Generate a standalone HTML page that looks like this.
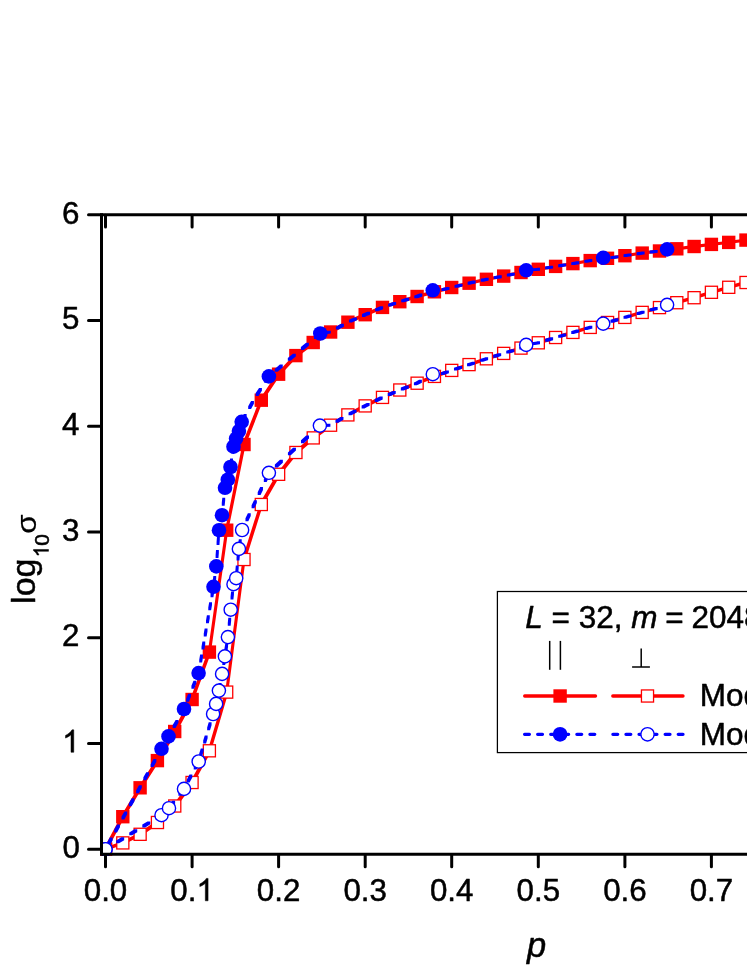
<!DOCTYPE html>
<html><head><meta charset="utf-8"><title>chart</title>
<style>
html,body{margin:0;padding:0;background:#fff;}
body{width:747px;height:967px;overflow:hidden;}
svg{display:block;}
svg text{filter:grayscale(1);}
text{font-family:"Liberation Sans",sans-serif;fill:#000;stroke:#000;stroke-width:0.5px;stroke-linejoin:round;}
</style></head><body>
<svg width="747" height="967" viewBox="0 0 747 967">
<rect width="747" height="967" fill="#fff"/>
<!-- axis titles -->
<g transform="translate(34.8,603.9) rotate(-90)">
<text x="0" y="0" font-size="34">log</text>
<path transform="translate(46.60,13.70) scale(0.01025,-0.01025)" d="M763 0H583V1147Q518 1085 412 1023Q307 961 223 930V1104Q374 1175 487 1276Q600 1377 647 1466H763Z" fill="#000" stroke="#000" stroke-width="48.8" stroke-linejoin="round"/>
<text x="58.28" y="13.7" font-size="21">0</text>
<text transform="translate(70.2,0.9) scale(1.12,1)" x="0" y="0" font-size="28" style="stroke-width:0.2px">σ</text>
</g>
<text x="536.5" y="956.9" text-anchor="middle" font-size="34.5" font-style="italic">p</text>
<!-- data -->
<clipPath id="pc"><rect x="100" y="213.3" width="660" height="642.4"/></clipPath>
<g clip-path="url(#pc)">
<path d="M104.12,847.83 121.44,815.33 124.19,815.33 124.19,818.08 106.88,850.58 104.12,850.58ZM121.44,815.33 138.75,786.42 141.50,786.42 141.50,789.17 124.19,818.08 121.44,818.08ZM138.75,786.42 156.06,759.23 158.81,759.23 158.81,761.98 141.50,789.17 138.75,789.17ZM156.06,759.23 173.37,730.12 176.12,730.12 176.12,732.88 158.81,761.98 156.06,761.98ZM173.37,730.12 190.69,698.12 193.44,698.12 193.44,700.88 176.12,732.88 173.37,732.88ZM190.69,698.12 208.00,650.73 210.75,650.73 210.75,653.48 193.44,700.88 190.69,700.88ZM208.00,650.73 225.31,528.83 228.06,528.83 228.06,531.58 210.75,653.48 208.00,653.48ZM225.31,528.83 242.62,443.12 245.37,443.12 245.37,445.88 228.06,531.58 225.31,531.58ZM242.62,443.12 259.93,398.82 262.68,398.82 262.68,401.57 245.37,445.88 242.62,445.88ZM259.93,398.82 277.25,372.82 280.00,372.82 280.00,375.57 262.68,401.57 259.93,401.57ZM277.25,372.82 294.56,354.23 297.31,354.23 297.31,356.98 280.00,375.57 277.25,375.57ZM294.56,354.23 311.87,341.12 314.62,341.12 314.62,343.88 297.31,356.98 294.56,356.98ZM311.87,341.12 329.18,330.62 331.93,330.62 331.93,333.38 314.62,343.88 311.87,343.88ZM329.18,330.62 346.49,320.82 349.24,320.82 349.24,323.57 331.93,333.38 329.18,333.38ZM346.49,320.82 363.81,313.32 366.56,313.32 366.56,316.07 349.24,323.57 346.49,323.57ZM363.81,313.32 381.12,306.02 383.87,306.02 383.87,308.77 366.56,316.07 363.81,316.07ZM381.12,306.02 398.43,300.32 401.18,300.32 401.18,303.07 383.87,308.77 381.12,308.77ZM398.43,300.32 415.74,295.12 418.49,295.12 418.49,297.88 401.18,303.07 398.43,303.07ZM415.74,295.12 433.05,290.43 435.80,290.43 435.80,293.18 418.49,297.88 415.74,297.88ZM433.05,290.43 450.37,286.12 453.12,286.12 453.12,288.88 435.80,293.18 433.05,293.18ZM450.37,286.12 467.68,281.82 470.43,281.82 470.43,284.57 453.12,288.88 450.37,288.88ZM467.68,281.82 484.99,277.93 487.74,277.93 487.74,280.68 470.43,284.57 467.68,284.57ZM484.99,277.93 502.30,274.73 505.05,274.73 505.05,277.48 487.74,280.68 484.99,280.68ZM502.30,274.73 519.61,271.12 522.36,271.12 522.36,273.88 505.05,277.48 502.30,277.48ZM519.61,271.12 536.92,267.93 539.67,267.93 539.67,270.68 522.36,273.88 519.61,273.88ZM536.92,267.93 554.24,265.02 556.99,265.02 556.99,267.77 539.67,270.68 536.92,270.68ZM554.24,265.02 571.55,262.23 574.30,262.23 574.30,264.98 556.99,267.77 554.24,267.77ZM571.55,262.23 588.86,259.23 591.61,259.23 591.61,261.98 574.30,264.98 571.55,264.98ZM588.86,259.23 606.17,256.93 608.92,256.93 608.92,259.68 591.61,261.98 588.86,261.98ZM606.17,256.93 623.49,254.32 626.24,254.32 626.24,257.07 608.92,259.68 606.17,259.68ZM623.49,254.32 640.80,251.72 643.55,251.72 643.55,254.47 626.24,257.07 623.49,257.07ZM640.80,251.72 658.11,249.62 660.86,249.62 660.86,252.38 643.55,254.47 640.80,254.47ZM658.11,249.62 675.42,247.43 678.17,247.43 678.17,250.18 660.86,252.38 658.11,252.38ZM675.42,247.43 692.73,245.12 695.48,245.12 695.48,247.88 678.17,250.18 675.42,250.18ZM692.73,245.12 710.04,243.03 712.79,243.03 712.79,245.78 695.48,247.88 692.73,247.88ZM710.04,243.03 727.36,241.03 730.11,241.03 730.11,243.78 712.79,245.78 710.04,245.78ZM727.36,241.03 744.67,238.72 747.42,238.72 747.42,241.47 730.11,243.78 727.36,243.78ZM744.67,238.72 761.98,236.62 764.73,236.62 764.73,239.38 747.42,241.47 744.67,241.47Z" fill="#ff0000"/>
<rect x="98.8" y="842.5" width="13.4" height="13.4" fill="#ff0000"/>
<rect x="116.1" y="810.0" width="13.4" height="13.4" fill="#ff0000"/>
<rect x="133.4" y="781.1" width="13.4" height="13.4" fill="#ff0000"/>
<rect x="150.7" y="753.9" width="13.4" height="13.4" fill="#ff0000"/>
<rect x="168.0" y="724.8" width="13.4" height="13.4" fill="#ff0000"/>
<rect x="185.4" y="692.8" width="13.4" height="13.4" fill="#ff0000"/>
<rect x="202.7" y="645.4" width="13.4" height="13.4" fill="#ff0000"/>
<rect x="220.0" y="523.5" width="13.4" height="13.4" fill="#ff0000"/>
<rect x="237.3" y="437.8" width="13.4" height="13.4" fill="#ff0000"/>
<rect x="254.6" y="393.5" width="13.4" height="13.4" fill="#ff0000"/>
<rect x="271.9" y="367.5" width="13.4" height="13.4" fill="#ff0000"/>
<rect x="289.2" y="348.9" width="13.4" height="13.4" fill="#ff0000"/>
<rect x="306.5" y="335.8" width="13.4" height="13.4" fill="#ff0000"/>
<rect x="323.9" y="325.3" width="13.4" height="13.4" fill="#ff0000"/>
<rect x="341.2" y="315.5" width="13.4" height="13.4" fill="#ff0000"/>
<rect x="358.5" y="308.0" width="13.4" height="13.4" fill="#ff0000"/>
<rect x="375.8" y="300.7" width="13.4" height="13.4" fill="#ff0000"/>
<rect x="393.1" y="295.0" width="13.4" height="13.4" fill="#ff0000"/>
<rect x="410.4" y="289.8" width="13.4" height="13.4" fill="#ff0000"/>
<rect x="427.7" y="285.1" width="13.4" height="13.4" fill="#ff0000"/>
<rect x="445.0" y="280.8" width="13.4" height="13.4" fill="#ff0000"/>
<rect x="462.4" y="276.5" width="13.4" height="13.4" fill="#ff0000"/>
<rect x="479.7" y="272.6" width="13.4" height="13.4" fill="#ff0000"/>
<rect x="497.0" y="269.4" width="13.4" height="13.4" fill="#ff0000"/>
<rect x="514.3" y="265.8" width="13.4" height="13.4" fill="#ff0000"/>
<rect x="531.6" y="262.6" width="13.4" height="13.4" fill="#ff0000"/>
<rect x="548.9" y="259.7" width="13.4" height="13.4" fill="#ff0000"/>
<rect x="566.2" y="256.9" width="13.4" height="13.4" fill="#ff0000"/>
<rect x="583.5" y="253.9" width="13.4" height="13.4" fill="#ff0000"/>
<rect x="600.8" y="251.6" width="13.4" height="13.4" fill="#ff0000"/>
<rect x="618.2" y="249.0" width="13.4" height="13.4" fill="#ff0000"/>
<rect x="635.5" y="246.4" width="13.4" height="13.4" fill="#ff0000"/>
<rect x="652.8" y="244.3" width="13.4" height="13.4" fill="#ff0000"/>
<rect x="670.1" y="242.1" width="13.4" height="13.4" fill="#ff0000"/>
<rect x="687.4" y="239.8" width="13.4" height="13.4" fill="#ff0000"/>
<rect x="704.7" y="237.7" width="13.4" height="13.4" fill="#ff0000"/>
<rect x="722.0" y="235.7" width="13.4" height="13.4" fill="#ff0000"/>
<rect x="739.3" y="233.4" width="13.4" height="13.4" fill="#ff0000"/>
<rect x="756.7" y="231.3" width="13.4" height="13.4" fill="#ff0000"/>
<path d="M104.12,847.83 121.44,841.52 124.19,841.52 124.19,844.27 106.88,850.58 104.12,850.58ZM121.44,841.52 138.75,832.92 141.50,832.92 141.50,835.67 124.19,844.27 121.44,844.27ZM138.75,832.92 156.06,821.12 158.81,821.12 158.81,823.88 141.50,835.67 138.75,835.67ZM156.06,821.12 173.37,804.62 176.12,804.62 176.12,807.38 158.81,823.88 156.06,823.88ZM173.37,804.62 190.69,781.12 193.44,781.12 193.44,783.88 176.12,807.38 173.37,807.38ZM190.69,781.12 208.00,749.42 210.75,749.42 210.75,752.17 193.44,783.88 190.69,783.88ZM208.00,749.42 225.31,690.73 228.06,690.73 228.06,693.48 210.75,752.17 208.00,752.17ZM225.31,690.73 242.62,558.12 245.37,558.12 245.37,560.88 228.06,693.48 225.31,693.48ZM242.62,558.12 259.93,503.12 262.68,503.12 262.68,505.88 245.37,560.88 242.62,560.88ZM259.93,503.12 277.25,472.93 280.00,472.93 280.00,475.68 262.68,505.88 259.93,505.88ZM277.25,472.93 294.56,451.12 297.31,451.12 297.31,453.88 280.00,475.68 277.25,475.68ZM294.56,451.12 311.87,436.52 314.62,436.52 314.62,439.27 297.31,453.88 294.56,453.88ZM311.87,436.52 329.18,423.82 331.93,423.82 331.93,426.57 314.62,439.27 311.87,439.27ZM329.18,423.82 346.49,413.52 349.24,413.52 349.24,416.27 331.93,426.57 329.18,426.57ZM346.49,413.52 363.81,404.52 366.56,404.52 366.56,407.27 349.24,416.27 346.49,416.27ZM363.81,404.52 381.12,396.02 383.87,396.02 383.87,398.77 366.56,407.27 363.81,407.27ZM381.12,396.02 398.43,388.62 401.18,388.62 401.18,391.38 383.87,398.77 381.12,398.77ZM398.43,388.62 415.74,381.82 418.49,381.82 418.49,384.57 401.18,391.38 398.43,391.38ZM415.74,381.82 433.05,375.02 435.80,375.02 435.80,377.77 418.49,384.57 415.74,384.57ZM433.05,375.02 450.37,369.02 453.12,369.02 453.12,371.77 435.80,377.77 433.05,377.77ZM450.37,369.02 467.68,363.23 470.43,363.23 470.43,365.98 453.12,371.77 450.37,371.77ZM467.68,363.23 484.99,357.43 487.74,357.43 487.74,360.18 470.43,365.98 467.68,365.98ZM484.99,357.43 502.30,352.02 505.05,352.02 505.05,354.77 487.74,360.18 484.99,360.18ZM502.30,352.02 519.61,346.73 522.36,346.73 522.36,349.48 505.05,354.77 502.30,354.77ZM519.61,346.73 536.92,341.43 539.67,341.43 539.67,344.18 522.36,349.48 519.61,349.48ZM536.92,341.43 554.24,336.12 556.99,336.12 556.99,338.88 539.67,344.18 536.92,344.18ZM554.24,336.12 571.55,331.02 574.30,331.02 574.30,333.77 556.99,338.88 554.24,338.88ZM571.55,331.02 588.86,326.02 591.61,326.02 591.61,328.77 574.30,333.77 571.55,333.77ZM588.86,326.02 606.17,321.12 608.92,321.12 608.92,323.88 591.61,328.77 588.86,328.77ZM606.17,321.12 623.49,316.02 626.24,316.02 626.24,318.77 608.92,323.88 606.17,323.88ZM623.49,316.02 640.80,311.02 643.55,311.02 643.55,313.77 626.24,318.77 623.49,318.77ZM640.80,311.02 658.11,306.23 660.86,306.23 660.86,308.98 643.55,313.77 640.80,313.77ZM658.11,306.23 675.42,301.32 678.17,301.32 678.17,304.07 660.86,308.98 658.11,308.98ZM675.42,301.32 692.73,296.32 695.48,296.32 695.48,299.07 678.17,304.07 675.42,304.07ZM692.73,296.32 710.04,290.93 712.79,290.93 712.79,293.68 695.48,299.07 692.73,299.07ZM710.04,290.93 727.36,285.93 730.11,285.93 730.11,288.68 712.79,293.68 710.04,293.68ZM727.36,285.93 744.67,281.12 747.42,281.12 747.42,283.88 730.11,288.68 727.36,288.68ZM744.67,281.12 761.98,276.43 764.73,276.43 764.73,279.18 747.42,283.88 744.67,283.88Z" fill="#ff0000"/>
<rect x="99.45" y="843.15" width="12.1" height="12.1" fill="#fff" stroke="#ff0000" stroke-width="1.3"/>
<rect x="116.76" y="836.85" width="12.1" height="12.1" fill="#fff" stroke="#ff0000" stroke-width="1.3"/>
<rect x="134.07" y="828.25" width="12.1" height="12.1" fill="#fff" stroke="#ff0000" stroke-width="1.3"/>
<rect x="151.39" y="816.45" width="12.1" height="12.1" fill="#fff" stroke="#ff0000" stroke-width="1.3"/>
<rect x="168.70" y="799.95" width="12.1" height="12.1" fill="#fff" stroke="#ff0000" stroke-width="1.3"/>
<rect x="186.01" y="776.45" width="12.1" height="12.1" fill="#fff" stroke="#ff0000" stroke-width="1.3"/>
<rect x="203.32" y="744.75" width="12.1" height="12.1" fill="#fff" stroke="#ff0000" stroke-width="1.3"/>
<rect x="220.63" y="686.05" width="12.1" height="12.1" fill="#fff" stroke="#ff0000" stroke-width="1.3"/>
<rect x="237.95" y="553.45" width="12.1" height="12.1" fill="#fff" stroke="#ff0000" stroke-width="1.3"/>
<rect x="255.26" y="498.45" width="12.1" height="12.1" fill="#fff" stroke="#ff0000" stroke-width="1.3"/>
<rect x="272.57" y="468.25" width="12.1" height="12.1" fill="#fff" stroke="#ff0000" stroke-width="1.3"/>
<rect x="289.88" y="446.45" width="12.1" height="12.1" fill="#fff" stroke="#ff0000" stroke-width="1.3"/>
<rect x="307.19" y="431.85" width="12.1" height="12.1" fill="#fff" stroke="#ff0000" stroke-width="1.3"/>
<rect x="324.51" y="419.15" width="12.1" height="12.1" fill="#fff" stroke="#ff0000" stroke-width="1.3"/>
<rect x="341.82" y="408.85" width="12.1" height="12.1" fill="#fff" stroke="#ff0000" stroke-width="1.3"/>
<rect x="359.13" y="399.85" width="12.1" height="12.1" fill="#fff" stroke="#ff0000" stroke-width="1.3"/>
<rect x="376.44" y="391.35" width="12.1" height="12.1" fill="#fff" stroke="#ff0000" stroke-width="1.3"/>
<rect x="393.75" y="383.95" width="12.1" height="12.1" fill="#fff" stroke="#ff0000" stroke-width="1.3"/>
<rect x="411.07" y="377.15" width="12.1" height="12.1" fill="#fff" stroke="#ff0000" stroke-width="1.3"/>
<rect x="428.38" y="370.35" width="12.1" height="12.1" fill="#fff" stroke="#ff0000" stroke-width="1.3"/>
<rect x="445.69" y="364.35" width="12.1" height="12.1" fill="#fff" stroke="#ff0000" stroke-width="1.3"/>
<rect x="463.00" y="358.55" width="12.1" height="12.1" fill="#fff" stroke="#ff0000" stroke-width="1.3"/>
<rect x="480.31" y="352.75" width="12.1" height="12.1" fill="#fff" stroke="#ff0000" stroke-width="1.3"/>
<rect x="497.63" y="347.35" width="12.1" height="12.1" fill="#fff" stroke="#ff0000" stroke-width="1.3"/>
<rect x="514.94" y="342.05" width="12.1" height="12.1" fill="#fff" stroke="#ff0000" stroke-width="1.3"/>
<rect x="532.25" y="336.75" width="12.1" height="12.1" fill="#fff" stroke="#ff0000" stroke-width="1.3"/>
<rect x="549.56" y="331.45" width="12.1" height="12.1" fill="#fff" stroke="#ff0000" stroke-width="1.3"/>
<rect x="566.87" y="326.35" width="12.1" height="12.1" fill="#fff" stroke="#ff0000" stroke-width="1.3"/>
<rect x="584.19" y="321.35" width="12.1" height="12.1" fill="#fff" stroke="#ff0000" stroke-width="1.3"/>
<rect x="601.50" y="316.45" width="12.1" height="12.1" fill="#fff" stroke="#ff0000" stroke-width="1.3"/>
<rect x="618.81" y="311.35" width="12.1" height="12.1" fill="#fff" stroke="#ff0000" stroke-width="1.3"/>
<rect x="636.12" y="306.35" width="12.1" height="12.1" fill="#fff" stroke="#ff0000" stroke-width="1.3"/>
<rect x="653.43" y="301.55" width="12.1" height="12.1" fill="#fff" stroke="#ff0000" stroke-width="1.3"/>
<rect x="670.75" y="296.65" width="12.1" height="12.1" fill="#fff" stroke="#ff0000" stroke-width="1.3"/>
<rect x="688.06" y="291.65" width="12.1" height="12.1" fill="#fff" stroke="#ff0000" stroke-width="1.3"/>
<rect x="705.37" y="286.25" width="12.1" height="12.1" fill="#fff" stroke="#ff0000" stroke-width="1.3"/>
<rect x="722.68" y="281.25" width="12.1" height="12.1" fill="#fff" stroke="#ff0000" stroke-width="1.3"/>
<rect x="739.99" y="276.45" width="12.1" height="12.1" fill="#fff" stroke="#ff0000" stroke-width="1.3"/>
<rect x="757.31" y="271.75" width="12.1" height="12.1" fill="#fff" stroke="#ff0000" stroke-width="1.3"/>
<path d="M106.92,842.68 109.79,837.53 112.64,837.53 112.64,840.38 109.77,845.52 106.92,845.52ZM114.21,829.61 117.08,824.46 119.93,824.46 119.93,827.30 117.06,832.46 114.21,832.46ZM121.50,816.54 124.37,811.39 127.22,811.39 127.22,814.24 124.35,819.38 121.50,819.38ZM128.79,803.47 131.66,798.32 134.51,798.32 134.51,801.16 131.64,806.32 128.79,806.32ZM136.08,790.40 138.95,785.25 141.80,785.25 141.80,788.10 138.93,793.25 136.08,793.25ZM143.37,777.33 146.24,772.18 149.09,772.18 149.09,775.02 146.22,780.17 143.37,780.17ZM150.66,764.26 153.53,759.11 156.38,759.11 156.38,761.96 153.51,767.11 150.66,767.11ZM157.95,751.19 160.07,747.38 162.93,747.38 162.93,750.22 160.80,754.03 157.95,754.03ZM160.07,747.38 160.83,746.04 163.68,746.04 163.68,748.88 162.93,750.22 160.07,750.22ZM165.30,738.12 167.07,734.98 169.93,734.98 169.93,737.82 168.15,740.97 165.30,740.97ZM167.07,734.98 168.21,732.97 171.06,732.97 171.06,735.82 169.93,737.82 167.07,737.82ZM172.69,725.05 175.61,719.90 178.46,719.90 178.46,722.75 175.54,727.89 172.69,727.89ZM180.09,711.98 182.57,707.58 185.43,707.58 185.43,710.42 182.94,714.83 180.09,714.83ZM182.57,707.58 182.88,706.83 185.73,706.83 185.73,709.67 185.43,710.42 182.57,710.42ZM186.10,698.91 188.20,693.76 191.05,693.76 191.05,696.61 188.95,701.75 186.10,701.75ZM191.42,685.84 193.51,680.69 196.36,680.69 196.36,683.53 194.27,688.68 191.42,688.68ZM196.73,672.77 197.17,671.68 200.03,671.68 200.03,674.52 199.58,675.62 196.73,675.62ZM197.17,671.68 197.88,667.62 200.73,667.62 200.73,670.47 200.03,674.52 197.17,674.52ZM199.24,659.70 200.13,654.55 202.98,654.55 202.98,657.39 202.09,662.55 199.24,662.55ZM201.50,646.63 202.39,641.48 205.24,641.48 205.24,644.33 204.35,649.48 201.50,649.48ZM203.76,633.56 204.65,628.41 207.50,628.41 207.50,631.25 206.61,636.40 203.76,636.40ZM206.01,620.49 206.90,615.34 209.75,615.34 209.75,618.18 208.86,623.34 206.01,623.34ZM208.27,607.42 209.16,602.27 212.01,602.27 212.01,605.12 211.12,610.26 208.27,610.26ZM210.53,594.35 211.42,589.20 214.27,589.20 214.27,592.05 213.38,597.19 210.53,597.19ZM212.64,581.28 213.34,576.12 216.19,576.12 216.19,578.97 215.49,584.12 212.64,584.12ZM214.43,568.21 214.88,564.98 217.73,564.98 217.73,567.82 217.28,571.05 214.43,571.05ZM214.88,564.98 215.02,563.06 217.87,563.06 217.87,565.90 217.73,567.82 214.88,567.82ZM215.61,555.13 215.99,549.99 218.84,549.99 218.84,552.84 218.46,557.98 215.61,557.98ZM216.58,542.07 216.97,536.92 219.82,536.92 219.82,539.76 219.43,544.91 216.58,544.91ZM217.56,529.00 217.57,528.78 220.43,528.78 220.43,531.62 220.41,531.85 217.56,531.85ZM217.57,528.78 218.56,523.85 221.41,523.85 221.41,526.69 220.43,531.62 217.57,531.62ZM220.14,515.93 220.57,513.78 223.43,513.78 223.43,516.62 223.00,518.77 220.14,518.77ZM220.57,513.78 220.90,510.78 223.75,510.78 223.75,513.62 223.43,516.62 220.57,516.62ZM221.77,502.86 222.33,497.70 225.18,497.70 225.18,500.56 224.62,505.71 221.77,505.71ZM223.20,489.79 223.57,486.38 226.43,486.38 226.43,489.23 226.05,492.64 223.20,492.64ZM223.57,486.38 224.18,484.63 227.03,484.63 227.03,487.49 226.43,489.23 223.57,489.23ZM226.71,476.71 227.80,471.56 230.65,471.56 230.65,474.42 229.56,479.56 226.71,479.56ZM229.36,463.64 230.12,458.50 232.97,458.50 232.97,461.35 232.21,466.50 229.36,466.50ZM231.29,450.57 232.05,445.43 234.90,445.43 234.90,448.28 234.14,453.43 231.29,453.43ZM234.57,437.50 234.67,437.18 237.53,437.18 237.53,440.03 237.42,440.36 234.57,440.36ZM234.67,437.18 236.47,432.36 239.32,432.36 239.32,435.21 237.53,440.03 234.67,440.03ZM239.05,424.44 240.27,420.38 243.12,420.38 243.12,423.23 241.90,427.29 239.05,427.29ZM240.92,419.21 243.79,414.06 246.64,414.06 246.64,416.92 243.77,422.06 240.92,422.06ZM248.19,406.14 251.06,401.00 253.91,401.00 253.91,403.85 251.04,409.00 248.19,409.00ZM255.70,393.07 259.05,387.93 261.90,387.93 261.90,390.78 258.55,395.93 255.70,395.93ZM264.20,380.00 267.47,374.97 270.32,374.97 270.32,377.82 267.05,382.86 264.20,382.86ZM274.74,368.91 279.89,364.61 282.75,364.61 282.75,367.46 277.59,371.76 274.74,371.76ZM287.81,358.00 292.96,353.70 295.81,353.70 295.81,356.55 290.66,360.85 287.81,360.85ZM300.88,347.09 306.03,342.79 308.88,342.79 308.88,345.64 303.73,349.94 300.88,349.94ZM313.95,336.18 318.88,332.07 321.73,332.07 321.73,334.93 316.81,339.03 313.95,339.03ZM322.81,331.50 327.95,330.75 330.81,330.75 330.81,333.60 325.66,334.35 322.81,334.35ZM335.88,326.76 341.02,323.84 343.88,323.84 343.88,326.69 338.73,329.61 335.88,329.61ZM348.94,319.69 354.09,317.46 356.94,317.46 356.94,320.31 351.80,322.54 348.94,322.54ZM362.01,314.03 363.75,313.27 366.61,313.27 366.61,316.12 364.87,316.88 362.01,316.88ZM363.75,313.27 367.17,311.84 370.02,311.84 370.02,314.69 366.61,316.12 363.75,316.12ZM375.08,308.50 380.24,306.33 383.09,306.33 383.09,309.18 377.94,311.35 375.08,311.35ZM388.16,303.64 393.31,301.95 396.16,301.95 396.16,304.80 391.01,306.49 388.16,306.49ZM401.23,299.42 406.38,297.87 409.23,297.87 409.23,300.72 404.08,302.27 401.23,302.27ZM414.30,295.49 415.69,295.07 418.54,295.07 418.54,297.93 417.15,298.34 414.30,298.34ZM415.69,295.07 419.44,293.59 422.30,293.59 422.30,296.44 418.54,297.93 415.69,297.93ZM427.37,290.46 431.38,288.88 434.23,288.88 434.23,291.73 430.22,293.31 427.37,293.31ZM431.38,288.88 434.23,288.88 435.85,290.38 435.85,293.23 433.00,293.23 431.38,291.73ZM433.00,290.38 433.56,290.24 436.41,290.24 436.41,293.09 435.85,293.23 433.00,293.23ZM441.48,288.27 446.62,286.99 449.48,286.99 449.48,289.84 444.33,291.12 441.48,291.12ZM454.55,285.02 459.69,283.75 462.55,283.75 462.55,286.60 457.40,287.87 454.55,287.87ZM467.62,281.78 467.63,281.77 470.48,281.77 470.48,284.62 470.47,284.63 467.62,284.63ZM467.63,281.77 472.76,280.62 475.62,280.62 475.62,283.47 470.48,284.62 467.63,284.62ZM480.69,278.83 484.94,277.88 487.79,277.88 487.79,280.73 483.54,281.68 480.69,281.68ZM484.94,277.88 485.83,277.71 488.69,277.71 488.69,280.56 487.79,280.73 484.94,280.73ZM493.75,276.25 498.91,275.29 501.76,275.29 501.76,278.14 496.61,279.10 493.75,279.10ZM506.82,273.72 511.97,272.65 514.82,272.65 514.82,275.50 509.68,276.57 506.82,276.57ZM519.90,270.93 524.78,268.88 527.62,268.88 527.62,271.73 522.75,273.78 519.90,273.78ZM532.04,268.27 536.88,267.88 539.72,267.88 539.72,270.73 534.88,271.12 532.04,271.12ZM536.88,267.88 537.19,267.82 540.03,267.82 540.03,270.67 539.72,270.73 536.88,270.73ZM545.11,266.50 550.26,265.63 553.11,265.63 553.11,268.48 547.96,269.35 545.11,269.35ZM558.18,264.33 563.33,263.50 566.17,263.50 566.17,266.35 561.02,267.18 558.18,267.18ZM571.25,262.22 571.50,262.18 574.35,262.18 574.35,265.03 574.10,265.07 571.25,265.07ZM571.50,262.18 576.40,261.33 579.25,261.33 579.25,264.18 574.35,265.03 571.50,265.03ZM584.32,259.95 588.81,259.18 591.66,259.18 591.66,262.03 587.16,262.80 584.32,262.80ZM588.81,259.18 589.47,259.03 592.32,259.03 592.32,261.88 591.66,262.03 588.81,262.03ZM597.39,257.32 601.78,256.38 604.62,256.38 604.62,259.23 600.24,260.17 597.39,260.17ZM601.78,256.38 604.62,256.38 605.38,256.46 605.38,259.31 602.54,259.31 601.78,259.23ZM610.46,256.22 615.61,255.45 618.46,255.45 618.46,258.30 613.31,259.07 610.46,259.07ZM623.53,254.26 628.68,253.49 631.52,253.49 631.52,256.34 626.38,257.11 623.53,257.11ZM636.60,252.30 640.75,251.67 643.60,251.67 643.60,254.53 639.45,255.15 636.60,255.15ZM640.75,251.67 641.75,251.55 644.60,251.55 644.60,254.40 643.60,254.53 640.75,254.53ZM649.67,250.59 654.82,249.97 657.66,249.97 657.66,252.82 652.51,253.44 649.67,253.44ZM662.74,248.59 665.68,247.97 668.52,247.97 668.52,250.83 665.59,251.44 662.74,251.44Z" fill="#0000ff"/>
<circle cx="105.5" cy="849.2" r="7.3" fill="#0000ff"/>
<circle cx="161.5" cy="748.8" r="7.3" fill="#0000ff"/>
<circle cx="168.5" cy="736.4" r="7.3" fill="#0000ff"/>
<circle cx="184.0" cy="709.0" r="7.3" fill="#0000ff"/>
<circle cx="198.6" cy="673.1" r="7.3" fill="#0000ff"/>
<circle cx="213.5" cy="586.8" r="7.3" fill="#0000ff"/>
<circle cx="216.3" cy="566.4" r="7.3" fill="#0000ff"/>
<circle cx="219.0" cy="530.2" r="7.3" fill="#0000ff"/>
<circle cx="222.0" cy="515.2" r="7.3" fill="#0000ff"/>
<circle cx="225.0" cy="487.8" r="7.3" fill="#0000ff"/>
<circle cx="227.8" cy="479.7" r="7.3" fill="#0000ff"/>
<circle cx="230.5" cy="467.0" r="7.3" fill="#0000ff"/>
<circle cx="233.5" cy="446.7" r="7.3" fill="#0000ff"/>
<circle cx="236.1" cy="438.6" r="7.3" fill="#0000ff"/>
<circle cx="238.9" cy="431.1" r="7.3" fill="#0000ff"/>
<circle cx="241.7" cy="421.8" r="7.3" fill="#0000ff"/>
<circle cx="268.9" cy="376.4" r="7.3" fill="#0000ff"/>
<circle cx="320.3" cy="333.5" r="7.3" fill="#0000ff"/>
<circle cx="432.8" cy="290.3" r="7.3" fill="#0000ff"/>
<circle cx="526.2" cy="270.3" r="7.3" fill="#0000ff"/>
<circle cx="603.2" cy="257.8" r="7.3" fill="#0000ff"/>
<circle cx="667.1" cy="249.4" r="7.3" fill="#0000ff"/>
<path d="M104.08,847.78 108.26,845.24 111.11,845.24 111.11,848.09 106.92,850.62 104.08,850.62ZM116.17,840.43 121.33,837.30 124.17,837.30 124.17,840.15 119.02,843.28 116.17,843.28ZM129.25,832.49 134.39,829.37 137.25,829.37 137.25,832.22 132.10,835.34 129.25,835.34ZM142.31,824.56 147.46,821.43 150.31,821.43 150.31,824.28 145.17,827.41 142.31,827.41ZM155.38,816.62 160.07,813.78 162.93,813.78 162.93,816.62 158.24,819.47 155.38,819.47ZM160.07,813.78 160.53,813.35 163.39,813.35 163.39,816.20 162.93,816.62 160.07,816.62ZM168.26,805.90 172.26,800.75 175.11,800.75 175.11,803.60 171.11,808.75 168.26,808.75ZM178.42,792.83 182.42,787.68 185.27,787.68 185.27,790.52 181.27,795.67 178.42,795.67ZM186.72,779.76 189.48,774.61 192.33,774.61 192.33,777.46 189.57,782.61 186.72,782.61ZM193.73,766.69 196.49,761.54 199.34,761.54 199.34,764.38 196.58,769.53 193.73,769.53ZM199.23,753.62 200.79,748.47 203.64,748.47 203.64,751.32 202.08,756.47 199.23,756.47ZM203.20,740.55 204.76,735.40 207.61,735.40 207.61,738.25 206.05,743.39 203.20,743.39ZM207.16,727.48 208.72,722.33 211.57,722.33 211.57,725.17 210.01,730.33 207.16,730.33ZM211.12,714.41 211.67,712.58 214.53,712.58 214.53,715.42 213.97,717.25 211.12,717.25ZM211.67,712.58 212.66,709.26 215.51,709.26 215.51,712.11 214.53,715.42 211.67,715.42ZM214.91,701.34 216.00,696.19 218.85,696.19 218.85,699.03 217.76,704.18 214.91,704.18ZM217.65,688.27 218.64,683.12 221.49,683.12 221.49,685.97 220.50,691.12 217.65,691.12ZM220.15,675.20 220.67,672.48 223.53,672.48 223.53,675.32 223.00,678.05 220.15,678.05ZM220.67,672.48 221.06,670.05 223.91,670.05 223.91,672.89 223.53,675.32 220.67,675.32ZM222.33,662.13 223.15,656.98 226.00,656.98 226.00,659.83 225.18,664.98 222.33,664.98ZM224.40,649.06 225.20,643.91 228.05,643.91 228.05,646.75 227.25,651.90 224.40,651.90ZM226.43,635.99 226.47,635.68 229.33,635.68 229.33,638.52 229.28,638.84 226.43,638.84ZM226.47,635.68 226.97,630.84 229.82,630.84 229.82,633.68 229.33,638.52 226.47,638.52ZM227.78,622.92 228.31,617.77 231.16,617.77 231.16,620.62 230.63,625.76 227.78,625.76ZM229.11,609.85 229.27,608.28 232.12,608.28 232.12,611.12 231.96,612.69 229.11,612.69ZM229.27,608.28 229.67,604.70 232.52,604.70 232.52,607.55 232.12,611.12 229.27,611.12ZM230.54,596.78 231.10,591.62 233.95,591.62 233.95,594.47 233.39,599.62 230.54,599.62ZM231.97,583.71 232.07,582.78 234.93,582.78 234.93,585.62 234.82,586.55 231.97,586.55ZM232.07,582.78 233.97,578.56 236.82,578.56 236.82,581.40 234.93,585.62 232.07,585.62ZM235.34,570.63 235.82,565.49 238.67,565.49 238.67,568.34 238.19,573.48 235.34,573.48ZM236.55,557.57 237.02,552.42 239.87,552.42 239.87,555.26 239.40,560.41 236.55,560.41ZM237.98,544.50 238.85,539.35 241.70,539.35 241.70,542.19 240.83,547.35 237.98,547.35ZM240.19,531.43 240.67,528.58 243.53,528.58 243.53,531.42 243.04,534.27 240.19,534.27ZM240.67,528.58 241.75,526.28 244.60,526.28 244.60,529.12 243.53,531.42 240.67,531.42ZM245.46,518.36 247.88,513.21 250.73,513.21 250.73,516.05 248.31,521.20 245.46,521.20ZM251.59,505.29 254.00,500.13 256.85,500.13 256.85,502.99 254.44,508.14 251.59,508.14ZM257.71,492.21 260.12,487.06 262.97,487.06 262.97,489.92 260.56,495.06 257.71,495.06ZM263.83,479.14 266.25,474.00 269.10,474.00 269.10,476.85 266.68,482.00 263.83,482.00ZM274.85,464.54 280.00,459.78 282.85,459.78 282.85,462.63 277.70,467.39 274.85,467.39ZM287.92,452.45 293.07,447.68 295.93,447.68 295.93,450.53 290.77,455.30 287.92,455.30ZM300.99,440.35 306.14,435.59 309.00,435.59 309.00,438.44 303.84,443.20 300.99,443.20ZM314.06,428.26 318.47,424.18 321.32,424.18 321.32,427.03 316.92,431.11 314.06,431.11ZM322.40,424.03 327.55,423.83 330.40,423.83 330.40,426.68 325.25,426.88 322.40,426.88ZM335.47,420.00 340.62,416.94 343.47,416.94 343.47,419.79 338.32,422.85 335.47,422.85ZM348.54,412.38 353.69,409.70 356.55,409.70 356.55,412.55 351.39,415.23 348.54,415.23ZM361.61,405.59 363.75,404.47 366.61,404.47 366.61,407.32 364.46,408.44 361.61,408.44ZM363.75,404.47 366.76,403.00 369.62,403.00 369.62,405.85 366.61,407.32 363.75,407.32ZM374.68,399.11 379.83,396.58 382.69,396.58 382.69,399.43 377.53,401.96 374.68,401.96ZM387.75,393.12 392.90,390.91 395.75,390.91 395.75,393.76 390.60,395.97 387.75,395.97ZM400.82,387.61 405.97,385.59 408.82,385.59 408.82,388.44 403.68,390.46 400.82,390.46ZM413.89,382.48 415.69,381.77 418.54,381.77 418.54,384.62 416.75,385.33 413.89,385.33ZM415.69,381.77 419.04,379.85 421.89,379.85 421.89,382.70 418.54,384.62 415.69,384.62ZM426.96,375.31 431.38,372.77 434.23,372.77 434.23,375.62 429.81,378.16 426.96,378.16ZM431.38,372.77 434.23,372.77 435.84,374.95 435.84,377.81 432.99,377.81 431.38,375.62ZM440.90,372.24 446.05,370.45 448.90,370.45 448.90,373.30 443.75,375.09 440.90,375.09ZM453.97,367.75 459.12,366.02 461.97,366.02 461.97,368.87 456.82,370.60 453.97,370.60ZM467.04,363.37 467.63,363.18 470.48,363.18 470.48,366.03 469.89,366.22 467.04,366.22ZM467.63,363.18 472.19,361.65 475.04,361.65 475.04,364.50 470.48,366.03 467.63,366.03ZM480.11,358.99 484.94,357.38 487.79,357.38 487.79,360.23 482.96,361.84 480.11,361.84ZM484.94,357.38 485.26,357.27 488.11,357.27 488.11,360.12 487.79,360.23 484.94,360.23ZM493.18,354.80 498.33,353.20 501.18,353.20 501.18,356.05 496.03,357.65 493.18,357.65ZM506.25,350.75 511.40,349.17 514.25,349.17 514.25,352.02 509.10,353.60 506.25,353.60ZM519.32,346.75 519.56,346.68 522.41,346.68 522.41,349.53 522.17,349.60 519.32,349.60ZM519.56,346.68 524.47,343.66 527.32,343.66 527.32,346.51 522.41,349.53 519.56,349.53ZM532.04,342.21 536.88,341.38 539.72,341.38 539.72,344.23 534.88,345.06 532.04,345.06ZM536.88,341.38 537.19,341.28 540.03,341.28 540.03,344.13 539.72,344.23 536.88,344.23ZM545.11,338.86 550.26,337.28 553.11,337.28 553.11,340.13 547.96,341.71 545.11,341.71ZM558.18,334.90 563.33,333.38 566.17,333.38 566.17,336.23 561.02,337.75 558.18,337.75ZM571.25,331.05 571.50,330.97 574.35,330.97 574.35,333.82 574.10,333.90 571.25,333.90ZM571.50,330.97 576.40,329.56 579.25,329.56 579.25,332.41 574.35,333.82 571.50,333.82ZM584.32,327.27 588.81,325.97 591.66,325.97 591.66,328.82 587.16,330.12 584.32,330.12ZM588.81,325.97 589.47,325.78 592.32,325.78 592.32,328.63 591.66,328.82 588.81,328.82ZM597.39,323.46 601.78,322.18 604.62,322.18 604.62,325.03 600.24,326.31 597.39,326.31ZM601.78,322.18 602.54,321.98 605.38,321.98 605.38,324.83 604.62,325.03 601.78,325.03ZM610.46,319.80 615.61,318.28 618.46,318.28 618.46,321.13 613.31,322.65 610.46,322.65ZM623.53,315.95 628.68,314.46 631.52,314.46 631.52,317.31 626.38,318.80 623.53,318.80ZM636.60,312.17 640.75,310.97 643.60,310.97 643.60,313.82 639.45,315.02 636.60,315.02ZM640.75,310.97 641.75,310.70 644.60,310.70 644.60,313.55 643.60,313.82 640.75,313.82ZM649.67,308.50 654.82,307.07 657.66,307.07 657.66,309.92 652.51,311.35 649.67,311.35ZM662.74,304.46 665.68,303.38 668.52,303.38 668.52,306.23 665.59,307.31 662.74,307.31Z" fill="#0000ff"/>
<circle cx="105.5" cy="849.2" r="6.6" fill="#fff" stroke="#0000ff" stroke-width="1.4"/>
<circle cx="161.5" cy="815.2" r="6.6" fill="#fff" stroke="#0000ff" stroke-width="1.4"/>
<circle cx="169.0" cy="808.2" r="6.6" fill="#fff" stroke="#0000ff" stroke-width="1.4"/>
<circle cx="184.0" cy="788.9" r="6.6" fill="#fff" stroke="#0000ff" stroke-width="1.4"/>
<circle cx="198.7" cy="761.5" r="6.6" fill="#fff" stroke="#0000ff" stroke-width="1.4"/>
<circle cx="213.1" cy="714.0" r="6.6" fill="#fff" stroke="#0000ff" stroke-width="1.4"/>
<circle cx="216.1" cy="703.9" r="6.6" fill="#fff" stroke="#0000ff" stroke-width="1.4"/>
<circle cx="218.9" cy="690.6" r="6.6" fill="#fff" stroke="#0000ff" stroke-width="1.4"/>
<circle cx="222.1" cy="673.9" r="6.6" fill="#fff" stroke="#0000ff" stroke-width="1.4"/>
<circle cx="224.9" cy="656.4" r="6.6" fill="#fff" stroke="#0000ff" stroke-width="1.4"/>
<circle cx="227.9" cy="637.1" r="6.6" fill="#fff" stroke="#0000ff" stroke-width="1.4"/>
<circle cx="230.7" cy="609.7" r="6.6" fill="#fff" stroke="#0000ff" stroke-width="1.4"/>
<circle cx="233.5" cy="584.2" r="6.6" fill="#fff" stroke="#0000ff" stroke-width="1.4"/>
<circle cx="236.2" cy="578.2" r="6.6" fill="#fff" stroke="#0000ff" stroke-width="1.4"/>
<circle cx="238.9" cy="548.9" r="6.6" fill="#fff" stroke="#0000ff" stroke-width="1.4"/>
<circle cx="242.1" cy="530.0" r="6.6" fill="#fff" stroke="#0000ff" stroke-width="1.4"/>
<circle cx="268.9" cy="472.8" r="6.6" fill="#fff" stroke="#0000ff" stroke-width="1.4"/>
<circle cx="319.9" cy="425.6" r="6.6" fill="#fff" stroke="#0000ff" stroke-width="1.4"/>
<circle cx="432.8" cy="374.2" r="6.6" fill="#fff" stroke="#0000ff" stroke-width="1.4"/>
<circle cx="526.2" cy="344.9" r="6.6" fill="#fff" stroke="#0000ff" stroke-width="1.4"/>
<circle cx="603.2" cy="323.6" r="6.6" fill="#fff" stroke="#0000ff" stroke-width="1.4"/>
<circle cx="667.1" cy="304.8" r="6.6" fill="#fff" stroke="#0000ff" stroke-width="1.4"/>
</g>
<!-- axes -->
<line x1="101.5" y1="213.3" x2="101.5" y2="855.7" stroke="#000" stroke-width="3"/>
<line x1="101.5" y1="854.2" x2="747" y2="854.2" stroke="#000" stroke-width="3"/>
<line x1="101.5" y1="214.8" x2="747" y2="214.8" stroke="#000" stroke-width="3"/>
<line x1="88.5" y1="849.2" x2="101.0" y2="849.2" stroke="#000" stroke-width="3" stroke-linecap="round"/>
<text x="79.8" y="858.4" text-anchor="end" font-size="31.3">0</text>
<line x1="88.5" y1="743.5" x2="101.0" y2="743.5" stroke="#000" stroke-width="3" stroke-linecap="round"/>
<path transform="translate(62.10,752.27) scale(0.01528,-0.01528)" d="M763 0H583V1147Q518 1085 412 1023Q307 961 223 930V1104Q374 1175 487 1276Q600 1377 647 1466H763Z" fill="#000" stroke="#000" stroke-width="32.7" stroke-linejoin="round"/>
<line x1="88.5" y1="637.7" x2="101.0" y2="637.7" stroke="#000" stroke-width="3" stroke-linecap="round"/>
<text x="79.3" y="646.4" text-anchor="end" font-size="31.3">2</text>
<line x1="88.5" y1="532.0" x2="101.0" y2="532.0" stroke="#000" stroke-width="3" stroke-linecap="round"/>
<text x="79.3" y="540.7" text-anchor="end" font-size="31.3">3</text>
<line x1="88.5" y1="426.3" x2="101.0" y2="426.3" stroke="#000" stroke-width="3" stroke-linecap="round"/>
<text x="79.3" y="435.0" text-anchor="end" font-size="31.3">4</text>
<line x1="88.5" y1="320.5" x2="101.0" y2="320.5" stroke="#000" stroke-width="3" stroke-linecap="round"/>
<text x="79.3" y="329.2" text-anchor="end" font-size="31.3">5</text>
<line x1="88.5" y1="214.8" x2="101.0" y2="214.8" stroke="#000" stroke-width="3" stroke-linecap="round"/>
<text x="79.3" y="223.5" text-anchor="end" font-size="31.3">6</text>
<line x1="105.5" y1="854.7" x2="105.5" y2="866.7" stroke="#000" stroke-width="3" stroke-linecap="round"/>
<line x1="105.5" y1="215.3" x2="105.5" y2="227" stroke="#000" stroke-width="3" stroke-linecap="round"/>
<text x="105.5" y="900.8" text-anchor="middle" font-size="31.3">0.0</text>
<line x1="192.1" y1="854.7" x2="192.1" y2="866.7" stroke="#000" stroke-width="3" stroke-linecap="round"/>
<line x1="192.1" y1="215.3" x2="192.1" y2="227" stroke="#000" stroke-width="3" stroke-linecap="round"/>
<text x="170.31" y="900.8" font-size="31.3">0.</text>
<path transform="translate(196.41,900.80) scale(0.01528,-0.01528)" d="M763 0H583V1147Q518 1085 412 1023Q307 961 223 930V1104Q374 1175 487 1276Q600 1377 647 1466H763Z" fill="#000" stroke="#000" stroke-width="32.7" stroke-linejoin="round"/>
<line x1="278.6" y1="854.7" x2="278.6" y2="866.7" stroke="#000" stroke-width="3" stroke-linecap="round"/>
<line x1="278.6" y1="215.3" x2="278.6" y2="227" stroke="#000" stroke-width="3" stroke-linecap="round"/>
<text x="278.6" y="900.8" text-anchor="middle" font-size="31.3">0.2</text>
<line x1="365.2" y1="854.7" x2="365.2" y2="866.7" stroke="#000" stroke-width="3" stroke-linecap="round"/>
<line x1="365.2" y1="215.3" x2="365.2" y2="227" stroke="#000" stroke-width="3" stroke-linecap="round"/>
<text x="365.2" y="900.8" text-anchor="middle" font-size="31.3">0.3</text>
<line x1="451.7" y1="854.7" x2="451.7" y2="866.7" stroke="#000" stroke-width="3" stroke-linecap="round"/>
<line x1="451.7" y1="215.3" x2="451.7" y2="227" stroke="#000" stroke-width="3" stroke-linecap="round"/>
<text x="451.7" y="900.8" text-anchor="middle" font-size="31.3">0.4</text>
<line x1="538.3" y1="854.7" x2="538.3" y2="866.7" stroke="#000" stroke-width="3" stroke-linecap="round"/>
<line x1="538.3" y1="215.3" x2="538.3" y2="227" stroke="#000" stroke-width="3" stroke-linecap="round"/>
<text x="538.3" y="900.8" text-anchor="middle" font-size="31.3">0.5</text>
<line x1="624.9" y1="854.7" x2="624.9" y2="866.7" stroke="#000" stroke-width="3" stroke-linecap="round"/>
<line x1="624.9" y1="215.3" x2="624.9" y2="227" stroke="#000" stroke-width="3" stroke-linecap="round"/>
<text x="624.9" y="900.8" text-anchor="middle" font-size="31.3">0.6</text>
<line x1="711.4" y1="854.7" x2="711.4" y2="866.7" stroke="#000" stroke-width="3" stroke-linecap="round"/>
<line x1="711.4" y1="215.3" x2="711.4" y2="227" stroke="#000" stroke-width="3" stroke-linecap="round"/>
<text x="711.4" y="900.8" text-anchor="middle" font-size="31.3">0.7</text>
<!-- legend -->
<rect x="497.4" y="591.5" width="300" height="161.1" fill="#fff" stroke="#000" stroke-width="1.25"/>
<text x="525.3" y="628" font-size="31.5"><tspan font-style="italic">L</tspan> = 32, <tspan font-style="italic">m</tspan><tspan dx="7.6">=</tspan><tspan dx="7.9">2048</tspan></text>
<line x1="549.7" y1="640.9" x2="549.7" y2="669.8" stroke="#000" stroke-width="1.5"/>
<line x1="560.4" y1="640.9" x2="560.4" y2="669.8" stroke="#000" stroke-width="1.5"/>
<line x1="632.1" y1="667" x2="649.9" y2="667" stroke="#000" stroke-width="1.5"/>
<line x1="641.2" y1="648.6" x2="641.2" y2="667" stroke="#000" stroke-width="1.5"/>
<line x1="524.7" y1="696" x2="595.5" y2="696" stroke="#ff0000" stroke-width="3.35" stroke-linecap="round"/>
<rect x="553.4" y="689.3" width="13.4" height="13.4" fill="#ff0000"/>
<line x1="612.8" y1="696" x2="683" y2="696" stroke="#ff0000" stroke-width="3.35" stroke-linecap="round"/>
<rect x="641.45" y="689.95" width="12.1" height="12.1" fill="#fff" stroke="#ff0000" stroke-width="1.3"/>
<text x="699.7" y="706.3" font-size="31.5">Model 1</text>
<line x1="524.6" y1="734.3" x2="595.4" y2="734.3" stroke="#0000ff" stroke-width="3.3" stroke-dasharray="4.8 8.27" stroke-linecap="round"/>
<circle cx="560.1" cy="734.3" r="7.35" fill="#0000ff"/>
<line x1="612.9" y1="734.3" x2="683" y2="734.3" stroke="#0000ff" stroke-width="3.3" stroke-dasharray="4.8 8.27" stroke-linecap="round"/>
<circle cx="647.5" cy="734.3" r="6.65" fill="#fff" stroke="#0000ff" stroke-width="1.4"/>
<text x="699.7" y="744.6" font-size="31.5">Model 2</text>
</svg>
</body></html>
